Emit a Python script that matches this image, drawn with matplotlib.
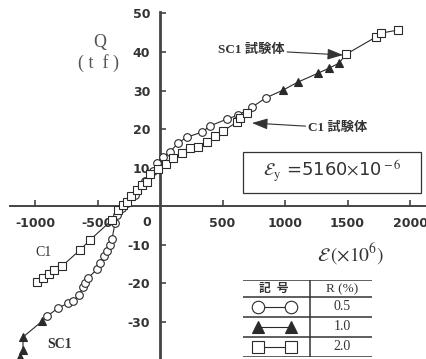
import numpy as np
import matplotlib.pyplot as plt

plt.rcParams['mathtext.fontset'] = 'stix'

# SC1 specimen: strain (x10^-6) vs load Q (tf), R level of each point
sc1_x = [-1120, -1096, -1096, -944,
         -904, -816, -736, -696, -648, -616, -600, -576, -504, -480, -448, -424,
         -400, -384, -360, -344, -304, -264, -200, -120, -60, -24, 24, 80,
         144, 216, 336, 400, 536, 624, 736, 848,
         984, 1104, 1264, 1352, 1432,
         1488, 1728, 1768, 1904]
sc1_y = [-39.2, -37.4, -34.0, -29.9,
         -28.6, -26.5, -25.2, -24.7, -23.1, -21.0, -20.0, -18.7, -16.4, -14.8, -13.0, -11.7,
         -10.1, -8.6, -4.4, -2.3, -0.5, 0.8, 3.0, 6.5, 9.0, 11.2, 12.7, 14.0,
         16.4, 17.9, 19.2, 20.8, 22.6, 23.6, 25.7, 28.1,
         30.1, 32.2, 34.5, 35.8, 37.1,
         39.4, 43.9, 44.9, 45.7]
sc1_r = ['1.0', '1.0', '1.0', '1.0',
         '0.5', '0.5', '0.5', '0.5', '0.5', '0.5', '0.5', '0.5', '0.5', '0.5', '0.5', '0.5',
         '0.5', '0.5', '0.5', '0.5', '0.5', '0.5', '0.5', '0.5', '0.5', '0.5', '0.5', '0.5',
         '0.5', '0.5', '0.5', '0.5', '0.5', '0.5', '0.5', '0.5',
         '1.0', '1.0', '1.0', '1.0', '1.0',
         '2.0', '2.0', '2.0', '2.0']

# C1 specimen (all points at R = 2.0)
c1_x = [-984, -936, -888, -848, -784, -640, -560, -384, -336, -296, -264, -232, -184,
        -144, -104, -80, -16, 48, 104, 176, 240, 304, 376, 440, 504, 616, 640, 696]
c1_y = [-19.7, -18.7, -17.7, -16.6, -15.6, -11.4, -8.8, -3.6, -1.0, 0.3, 1.0, 2.6, 4.2,
        5.5, 6.2, 8.3, 9.6, 10.9, 12.5, 13.8, 15.1, 15.3, 16.6, 18.2, 19.5, 21.8, 22.9, 24.2]
c1_r = ['2.0'] * len(c1_x)

xticks = [-1000, -500, 500, 1000, 1500, 2000]
xticklabels = ['-1000', '-500', '500', '1000', '1500', '2000']
yticks = [-30, -20, -10, 10, 20, 30, 40, 50]
yticklabels = ['-30', '-20', '-10', '10', '20', '30', '40', '50']

r_levels = ['0.5', '1.0', '2.0']
r_markers = {'0.5': 'o', '1.0': '^', '2.0': 's'}

ink = '#2a2a2a'
W, H = 426, 359


def px(x, y):
    # pixel position -> axes fraction
    return x / W, 1 - y / H


fig = plt.figure(figsize=(4.26, 3.59), dpi=100)
ax = fig.add_axes([0, 0, 1, 1])
ax.set_xlim(-1280, 2128)
ax.set_ylim(-39.7, 53.5)

for s in ['top', 'right']:
    ax.spines[s].set_visible(False)
ax.spines['left'].set_position(('data', 0))
ax.spines['bottom'].set_position(('data', 0))
ax.spines['left'].set_bounds(-40, 50.5)
ax.spines['bottom'].set_bounds(-1200, 2128)
ax.spines['left'].set_linewidth(2.0)
ax.spines['bottom'].set_linewidth(1.4)
ax.spines['left'].set_color('#444')
ax.spines['bottom'].set_color('#444')

ax.set_xticks(xticks, labels=xticklabels)
ax.set_yticks(yticks, labels=yticklabels)
ax.tick_params(axis='both', direction='in', length=4, width=1.2, color='#444',
               labelcolor='#333', labelsize=9)
ax.tick_params(axis='x', pad=8)
ax.tick_params(axis='y', pad=7)
for lab in ax.get_xticklabels() + ax.get_yticklabels():
    lab.set_fontweight('bold')
ax.text(*px(147, 223), '0', transform=ax.transAxes, ha='center', va='center',
        fontsize=9, fontweight='bold', color='#333')


def draw_curve(xs, ys, rs):
    xs = np.array(xs)
    ys = np.array(ys)
    rs = np.array(rs)
    ax.plot(xs, ys, '-', color=ink, lw=0.8, zorder=2)
    for r in r_levels:
        m = rs == r
        if not m.any():
            continue
        filled = r == '1.0'
        ax.plot(xs[m], ys[m], linestyle='none', marker=r_markers[r],
                ms=5.5 if r == '0.5' else 5.2, mfc=ink if filled else 'white',
                mec=ink, mew=0.8, zorder=3)


draw_curve(sc1_x, sc1_y, sc1_r)
draw_curve(c1_x, c1_y, c1_r)

serif_jp = ['Liberation Serif', 'Noto Sans CJK JP']

# axis titles
ax.text(*px(100, 42), 'Q', transform=ax.transAxes, ha='center', va='center',
        fontsize=13, family='Liberation Serif', color='#555')
ax.text(*px(98, 63), '( t  f )', transform=ax.transAxes, ha='center', va='center',
        fontsize=13, family='Liberation Serif', color='#555')
ax.text(*px(351, 254), r'$\mathcal{E}\,(\times 10^{6})$', transform=ax.transAxes,
        ha='center', va='center', fontsize=14, color='#333')

# specimen labels with arrows
ax.annotate('SC1 試験体', xy=px(343, 55), xycoords='axes fraction',
            xytext=px(251, 50), textcoords='axes fraction', ha='center', va='center',
            fontsize=9.5, fontweight='bold', family=serif_jp, color='#333',
            arrowprops=dict(arrowstyle='-|>,head_length=1.0,head_width=0.35',
                            color='#333', lw=0.8, shrinkA=0, shrinkB=0))
ax.annotate('C1 試験体', xy=px(252, 123), xycoords='axes fraction',
            xytext=px(338, 128), textcoords='axes fraction', ha='center', va='center',
            fontsize=9.5, fontweight='bold', family=serif_jp, color='#333',
            arrowprops=dict(arrowstyle='-|>,head_length=1.0,head_width=0.35',
                            color='#333', lw=0.8, shrinkA=0, shrinkB=0))
ax.text(*px(43, 252), 'C1', transform=ax.transAxes, ha='center', va='center',
        fontsize=10, family='Liberation Serif', color='#333')
ax.text(*px(60, 345), 'SC1', transform=ax.transAxes, ha='center', va='center',
        fontsize=10, fontweight='bold', family='Liberation Serif', color='#333')

# yield strain box
x0, y1 = px(243, 193)
x1, y0 = px(421, 152)
ax.add_patch(plt.Rectangle((x0, y1), x1 - x0, y0 - y1, transform=ax.transAxes,
                           fill=False, ec='#333', lw=0.9))
ax.text(*px(332, 171), r'$\mathcal{E}_{\rm y}$ =5160$\times$10$^{\rm -6}$',
        transform=ax.transAxes, ha='center', va='center', fontsize=13, color='#333')

# legend table
lt = fig.add_axes([243 / W, 1 - 357 / H, 129 / W, 77 / H])
lt.set_xlim(0, 129)
lt.set_ylim(77, 0)
lt.axis('off')
for yy in [0, 17, 37, 57, 77]:
    lt.plot([0, 129], [yy, yy], color='#333', lw=1.1)
lt.plot([67, 67], [0, 77], color='#333', lw=1.1)
lt.text(31, 9, '記  号', ha='center', va='center', fontsize=8.5, fontweight='bold',
        family=serif_jp, color='#333')
lt.text(99, 9, 'R (%)', ha='center', va='center', fontsize=9.5, family='Liberation Serif',
        color='#333')
for i, r in enumerate(r_levels):
    yy = 27 + 20 * i
    filled = r == '1.0'
    lt.plot([15, 48], [yy, yy], '-', color=ink, lw=0.8, marker=r_markers[r],
            ms=9, mfc=ink if filled else 'white', mec=ink, mew=0.8)
    lt.text(99, yy, r, ha='center', va='center', fontsize=10, family='Liberation Serif',
            color='#333')

fig.savefig('out.png', dpi=100)
